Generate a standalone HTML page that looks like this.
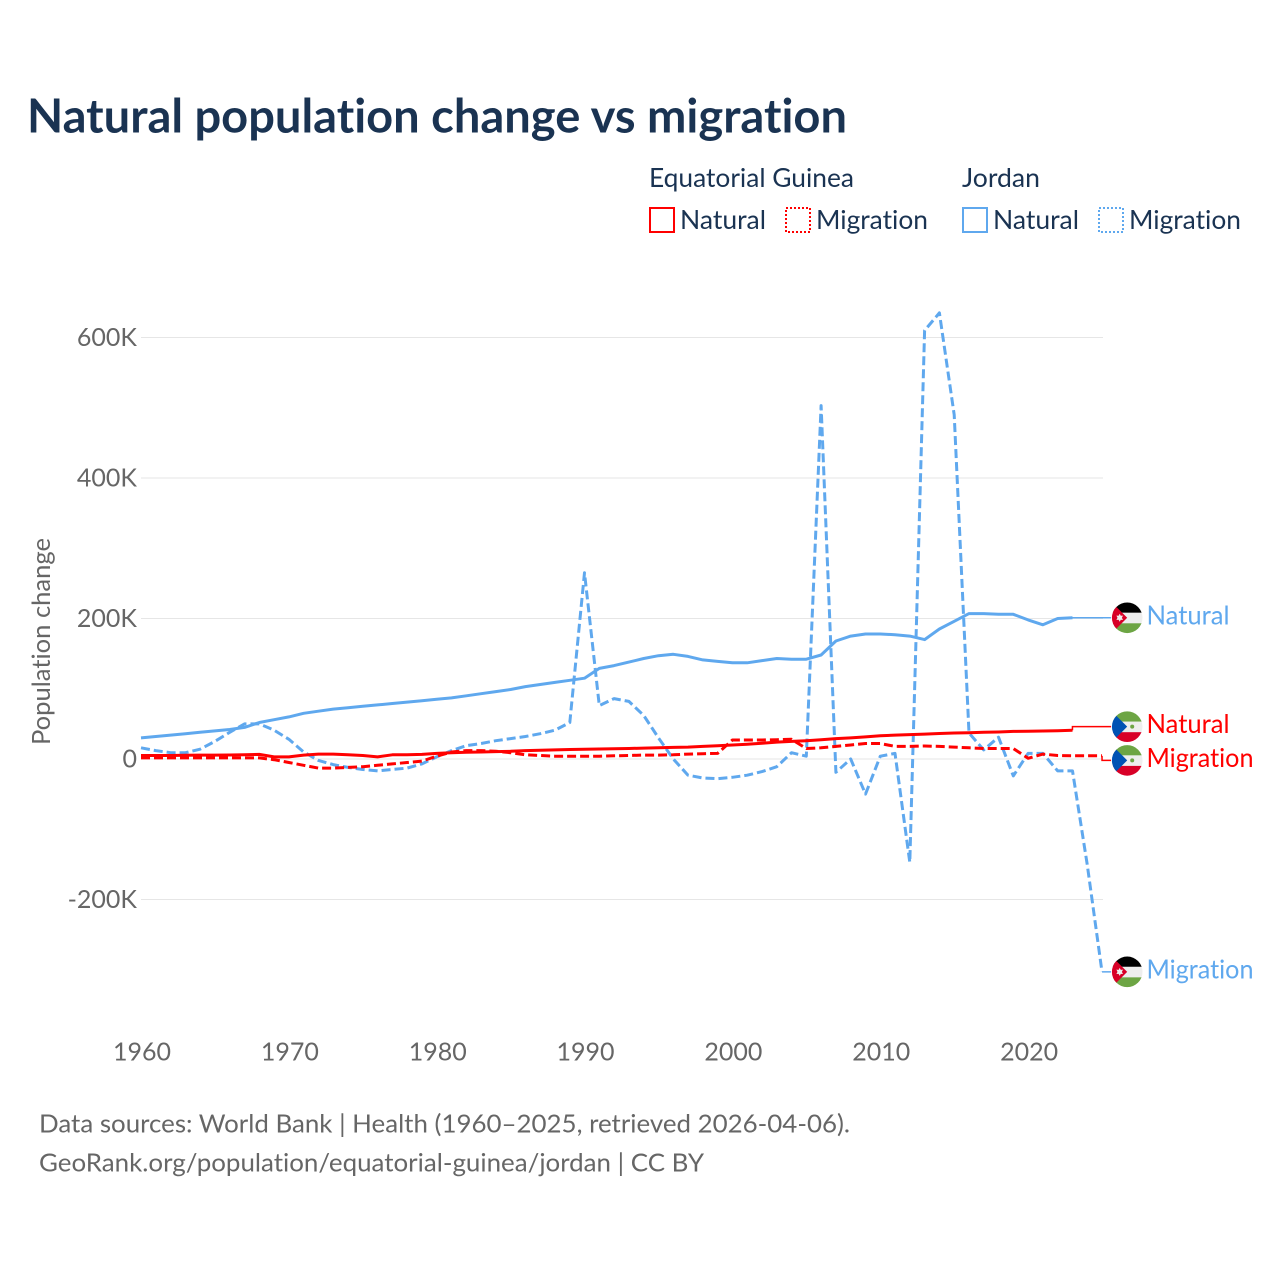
<!DOCTYPE html>
<html lang="en">
<head>
<meta charset="utf-8">
<title>Natural population change vs migration</title>
<style>
html,body{margin:0;padding:0;background:#fff;width:1280px;height:1280px;overflow:hidden}
svg{display:block}
text{font-family:"Lato","Carlito","Liberation Sans",sans-serif;font-variant-ligatures:none}
</style>
</head>
<body>
<svg id="chart" xmlns="http://www.w3.org/2000/svg" width="1280" height="1280" viewBox="0 0 1280 1280">
  <defs>
    <clipPath id="flag-clip" clipPathUnits="userSpaceOnUse"><circle cx="0" cy="0" r="15.3"/></clipPath>
    <g id="flag-jordan">
      <g clip-path="url(#flag-clip)">
        <rect x="-16" y="-16" width="32" height="11" fill="#000"/>
        <rect x="-16" y="-5" width="32" height="11" fill="#eee"/>
        <rect x="-16" y="5.5" width="32" height="11" fill="#6da544"/>
        <polygon points="-16,-16 0,0 -16,16" fill="#d80027"/>
        <polygon points="-7.5,-4 -6.4,-2 -4.2,-2.2 -5.3,0 -4.2,2.2 -6.4,2 -7.5,4 -8.6,2 -10.8,2.2 -9.7,0 -10.8,-2.2 -8.6,-2" fill="#eee"/>
      </g>
    </g>
    <g id="flag-equatorial-guinea">
      <g clip-path="url(#flag-clip)">
        <rect x="-16" y="-16" width="32" height="11" fill="#6da544"/>
        <rect x="-16" y="-5" width="32" height="11" fill="#eee"/>
        <rect x="-16" y="5.5" width="32" height="11" fill="#d80027"/>
        <polygon points="-16,-16 0,0 -16,16" fill="#0052b4"/>
        <circle cx="5" cy="0" r="2" fill="#6da544"/>
      </g>
    </g>
  </defs>

  <text x="27" y="132.5" font-size="47" font-weight="700" fill="#1a3352" textLength="820" lengthAdjust="spacingAndGlyphs">Natural population change vs migration</text>

  <g font-size="26" fill="#1a3352">
    <text x="649" y="187" textLength="205" lengthAdjust="spacingAndGlyphs">Equatorial Guinea</text>
    <text x="962" y="187" textLength="78" lengthAdjust="spacingAndGlyphs">Jordan</text>

    <rect x="650" y="208" width="24" height="24" fill="none" stroke="#ff0000" stroke-width="2"/>
    <text x="680" y="229" textLength="86" lengthAdjust="spacingAndGlyphs">Natural</text>
    <rect x="786" y="208" width="24" height="24" fill="none" stroke="#ff0000" stroke-width="2" stroke-dasharray="2,2"/>
    <text x="816" y="229" textLength="112" lengthAdjust="spacingAndGlyphs">Migration</text>

    <rect x="963" y="208" width="24" height="24" fill="none" stroke="#5fa8ee" stroke-width="2"/>
    <text x="993" y="229" textLength="86" lengthAdjust="spacingAndGlyphs">Natural</text>
    <rect x="1099" y="208" width="24" height="24" fill="none" stroke="#5fa8ee" stroke-width="2" stroke-dasharray="2,2"/>
    <text x="1129" y="229" textLength="112" lengthAdjust="spacingAndGlyphs">Migration</text>
  </g>

  <text transform="translate(50,641.5) rotate(-90)" text-anchor="middle" font-size="25" fill="#666" textLength="207" lengthAdjust="spacingAndGlyphs">Population change</text>

  <g id="grid"></g>
  <g id="y-ticks"></g>
  <g id="x-ticks"></g>
  <g id="series"></g>
  <g id="end-labels"></g>

  <g font-size="25" fill="#666">
    <text x="39" y="1132.5" textLength="811" lengthAdjust="spacingAndGlyphs">Data sources: World Bank | Health (1960–2025, retrieved 2026-04-06).</text>
    <text x="39" y="1171.5" textLength="665" lengthAdjust="spacingAndGlyphs">GeoRank.org/population/equatorial-guinea/jordan | CC BY</text>
  </g>
</svg>

<script>
// Chart data (values in thousands of people)
const startYear = 1960;
const yTickValues = [600, 400, 200, 0, -200];
const yTickLabels = ["600K", "400K", "200K", "0", "-200K"];
const xTickValues = [1960, 1970, 1980, 1990, 2000, 2010, 2020];
const xTickLabels = ["1960", "1970", "1980", "1990", "2000", "2010", "2020"];

// 1960..2023, then a final value reached through a thin connector
const jordanNatural = [30,32,34,36,38,40,42,45,52,56,60,65,68,71,73,75,77,79,81,83,85,87,90,93,96,99,103,106,109,112,115,129,133,138,143,147,149,146,141,139,137,137,140,143,142,142,148,168,175,178,178,177,175,170,185,196,207,207,206,206,198,191,200,201];
const jordanNaturalEnd = 201;
const eqGuineaNatural = [5,5,5,5.2,5.5,5.5,5.7,6,6.5,3,3,5.5,7,7,6,5,3,6,6,6.5,8,9,9.5,10,10.5,11,12,12.5,13,13.5,14,14.3,14.6,15,15.5,16,16.5,17,18,19,20,21,22.5,24,25,26,27.5,29,30,31.5,33,34,34.8,35.5,36.3,37,37.5,38,38.5,39.3,39.5,39.8,40.3,41];
const eqGuineaNaturalEnd = 46;

// 1960..2025
const jordanMigration = [16,12,9,9,14,25,38,50,50,41,28,10,-2,-8,-12,-15,-17,-15,-13,-7,3,12,19,22,26,29,32,36,41,52,265,76,86,82,62,30,0,-23,-27,-28,-26,-23,-18,-11,9,4,503,-19,0,-50,4,8,-147,610,635,490,37,13,31,-24,8,8,-17,-17,-150,-303];
const jordanMigrationEnd = -303;
const eqGuineaMigration = [1.5,1.5,1.5,1.5,1.5,1.5,1.5,1.5,1.5,-1,-5,-9,-13,-13,-12,-11,-9,-7,-5,-3,4,10,12,12,11,9,6,5,4,4,4,4,4.5,5,5.5,5.5,6,7,7.5,8,27,27,27,27.5,28,15,16,18,20,22,22,18,18,18.5,18,17,16,15,15,15,1,7,5,4.5,4.5,4.5];
const eqGuineaMigrationEnd = -2;

const NS = "http://www.w3.org/2000/svg";
const plotLeft = 141, gridRight = 1103, pxPerYear = 14.785, zeroY = 759, pxPerK = 0.7025;
const RED = "#ff0000", BLUE = "#5fa8ee";

function xScale(year) { return plotLeft + (year - startYear) * pxPerYear; }
function yScale(v) { return zeroY - v * pxPerK; }
function pathFrom(values) {
  return values.map(function (v, i) {
    return (i ? "L" : "M") + xScale(startYear + i).toFixed(1) + " " + yScale(v).toFixed(1);
  }).join(" ");
}
function make(tag, attrs, parent, text) {
  const el = document.createElementNS(NS, tag);
  Object.keys(attrs).forEach(function (k) { el.setAttribute(k, attrs[k]); });
  if (text !== undefined) el.textContent = text;
  parent.appendChild(el);
  return el;
}

const grid = document.getElementById("grid");
const yTicks = document.getElementById("y-ticks");
const xTicks = document.getElementById("x-ticks");
const series = document.getElementById("series");
const endLabels = document.getElementById("end-labels");

yTickValues.forEach(function (v, i) {
  const line = make("line", {x1: plotLeft, x2: gridRight, y1: yScale(v), y2: yScale(v), stroke: "#e6e6e6", "stroke-width": 1}, grid);
  
  
  const label = make("text", {x: 137, y: yScale(v) + 8.5, "text-anchor": "end", "font-size": 25, fill: "#666"}, yTicks, yTickLabels[i]);
  
  
});

xTickValues.forEach(function (v, i) {
  const label = make("text", {x: xScale(v) + 1, y: 1060.5, "text-anchor": "middle", "font-size": 25, fill: "#666"}, xTicks, xTickLabels[i]);
  
  
});

// Draw one series with a thin step connector leading to its flag
function drawSeries(values, endValue, color, dashed, flagId, labelText, lineName) {
  const lastYear = startYear + values.length - 1;
  const main = make("path", {d: pathFrom(values), fill: "none", stroke: color, "stroke-width": 3, "stroke-linejoin": "round"}, series);
  
  
  if (dashed) main.setAttribute("stroke-dasharray", "9,4");

  const lastX = xScale(lastYear), lastY = yScale(values[values.length - 1]), endY = yScale(endValue);
  const connector = make("path", {d: "M" + lastX + " " + lastY + " V" + endY + " H1111", fill: "none", stroke: color, "stroke-width": 1.5}, series);
  
  

  const flag = make("use", {href: "#" + flagId, x: 1127.2, y: endY}, endLabels);
  
  

  const isMig = labelText === "Migration";
  const label = make("text", {x: 1146.5, y: endY + 6.5, "font-size": 26, fill: color, textLength: isMig ? 107 : 83, lengthAdjust: "spacingAndGlyphs"}, endLabels, labelText);
  
  
}

drawSeries(jordanMigration, jordanMigrationEnd, BLUE, true, "flag-jordan", "Migration", "jordan-migration-line");
drawSeries(jordanNatural, jordanNaturalEnd, BLUE, false, "flag-jordan", "Natural", "jordan-natural-line");
drawSeries(eqGuineaMigration, eqGuineaMigrationEnd, RED, true, "flag-equatorial-guinea", "Migration", "eq-guinea-migration-line");
drawSeries(eqGuineaNatural, eqGuineaNaturalEnd, RED, false, "flag-equatorial-guinea", "Natural", "eq-guinea-natural-line");
</script>
</body>
</html>
